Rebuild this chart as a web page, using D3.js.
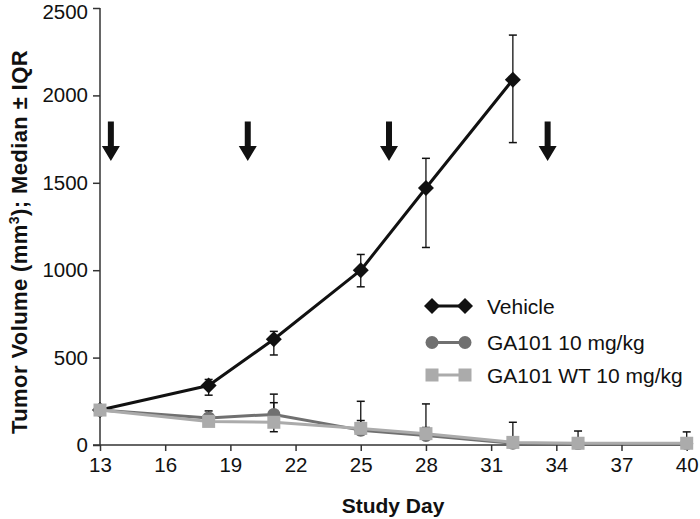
<!DOCTYPE html>
<html><head><meta charset="utf-8">
<script src="https://cdn.jsdelivr.net/npm/d3@7"></script>
<style>body{margin:0;background:#fff}svg{display:block}</style>
</head><body>
<script>
const vehDays = [13, 18, 21, 25, 28, 32];
const vehMedian = [200, 340, 605, 1000, 1470, 2090];
const vehQ1 = [200, 285, 515, 905, 1130, 1730];
const vehQ3 = [200, 375, 650, 1090, 1640, 2345];

const gaDays = [13, 18, 21, 25, 28, 32, 35, 40];
const gaMedian = [200, 155, 175, 85, 55, 10, 8, 8];
const gaQ1 = [200, 120, 76, 60, 35, 0, 0, 0];
const gaQ3 = [200, 195, 291, 250, 235, 130, 80, 75];

const wtDays = [13, 18, 21, 25, 28, 32, 35, 40];
const wtMedian = [200, 135, 130, 95, 65, 15, 10, 10];
const wtQ1 = [200, 110, 110, 70, 45, 5, 3, 3];
const wtQ3 = [200, 160, 242, 140, 100, 40, 30, 30];

const xTicks = [13, 16, 19, 22, 25, 28, 31, 34, 37, 40];
const yTicks = [0, 500, 1000, 1500, 2000, 2500];
const doseDays = [13.5, 19.8, 26.3, 33.6];
const seriesNames = ["Vehicle", "GA101 10 mg/kg", "GA101 WT 10 mg/kg"];

const W = 700, H = 519;
const svg = d3.select("body").append("svg").attr("width", W).attr("height", H);
const x = d3.scaleLinear().domain([13, 40]).range([100, 686.7]);
const y = d3.scaleLinear().domain([0, 2500]).range([445, 8]);
const FONT = "Liberation Sans, Arial, Helvetica, sans-serif";
const axisColor = "#333";

// axes
const gx = svg.append("g").attr("transform", "translate(0,445)")
  .call(d3.axisBottom(x).tickValues(xTicks).tickSize(6).tickPadding(6).tickFormat(d3.format("d")));
const gy = svg.append("g").attr("transform", "translate(100,0)")
  .call(d3.axisLeft(y).tickValues(yTicks).tickSize(7).tickPadding(5).tickFormat(d3.format("d")));
[gx, gy].forEach(g => {
  g.select(".domain").attr("stroke", axisColor).attr("stroke-width", 1.5);
  g.selectAll(".tick line").attr("stroke", axisColor).attr("stroke-width", 1.5);
  g.selectAll(".tick text").attr("font-family", FONT).attr("font-size", 20.5).attr("fill", "#111");
});
gy.selectAll(".tick text").filter(d => d === 2500).attr("dy", "0.5em");
gx.select(".domain").attr("d", "M93,0H686.7");
gy.select(".domain").attr("d", "M0,8V445");

// axis titles
svg.append("text").attr("x", 393).attr("y", 513).attr("text-anchor", "middle")
  .attr("font-family", FONT).attr("font-weight", "bold").attr("font-size", 21).attr("fill", "#111")
  .text("Study Day");
const yt = svg.append("text").attr("transform", "translate(27,242) rotate(-90)").attr("text-anchor", "middle")
  .attr("font-family", FONT).attr("font-weight", "bold").attr("font-size", 22).attr("letter-spacing", 0.4).attr("fill", "#111");
yt.append("tspan").text("Tumor Volume (mm");
yt.append("tspan").attr("font-size", 14).attr("dy", -8).text("3");
yt.append("tspan").attr("dy", 8).text("); Median ± IQR");

// dosing arrows
svg.append("g").selectAll("path").data(doseDays).join("path")
  .attr("d", d => {
    const cx = x(d), top = y(1850), neck = y(1710), tip = y(1625);
    return `M${cx-3},${top}H${cx+3}V${neck}H${cx+9}L${cx},${tip}L${cx-9},${neck}H${cx-3}Z`;
  })
  .attr("fill", "#111");

const series = [
  {days: vehDays, med: vehMedian, q1: vehQ1, q3: vehQ3, color: "#111", shape: "diamond"},
  {days: gaDays, med: gaMedian, q1: gaQ1, q3: gaQ3, color: "#707070", shape: "circle"},
  {days: wtDays, med: wtMedian, q1: wtQ1, q3: wtQ3, color: "#ababab", shape: "square"}
];

function marker(g, shape, color, cx, cy) {
  if (shape === "diamond") g.append("path").attr("d", `M${cx},${cy-8}L${cx+8},${cy}L${cx},${cy+8}L${cx-8},${cy}Z`).attr("fill", color);
  else if (shape === "circle") g.append("circle").attr("cx", cx).attr("cy", cy).attr("r", 6.5).attr("fill", color);
  else g.append("rect").attr("x", cx-6.5).attr("y", cy-6.5).attr("width", 13).attr("height", 13).attr("fill", color);
}

const line = d3.line().x(d => x(d[0])).y(d => y(d[1]));
// error bars
const eg = svg.append("g");
series.forEach(s => {
  s.days.forEach((d, i) => {
    if (s.q1[i] === s.q3[i]) return;
    const cx = x(d);
    eg.append("line").attr("x1", cx).attr("x2", cx).attr("y1", y(s.q1[i])).attr("y2", y(s.q3[i])).attr("stroke", "#111").attr("stroke-width", 1.3);
    [s.q1[i], s.q3[i]].forEach(v => eg.append("line").attr("x1", cx-4).attr("x2", cx+4).attr("y1", y(v)).attr("y2", y(v)).attr("stroke", "#111").attr("stroke-width", 1.5));
  });
});
series.forEach(s => {
  const g = svg.append("g");
  g.append("path").datum(s.days.map((d, i) => [d, s.med[i]])).attr("d", line)
    .attr("fill", "none").attr("stroke", s.color).attr("stroke-width", 3).attr("stroke-linejoin", "round");
  s.days.forEach((d, i) => marker(g, s.shape, s.color, x(d), y(s.med[i])));
});

// legend
const legY = [306, 342.5, 375];
series.forEach((s, i) => {
  const g = svg.append("g");
  g.append("line").attr("x1", 431).attr("x2", 466).attr("y1", legY[i]).attr("y2", legY[i]).attr("stroke", s.color).attr("stroke-width", 3);
  marker(g, s.shape, s.color, 432, legY[i]);
  marker(g, s.shape, s.color, 465, legY[i]);
  g.append("text").attr("x", 487).attr("y", legY[i] + 7.5).attr("font-family", FONT).attr("font-size", 21).attr("fill", "#111").text(seriesNames[i]);
});
</script>
</body></html>
